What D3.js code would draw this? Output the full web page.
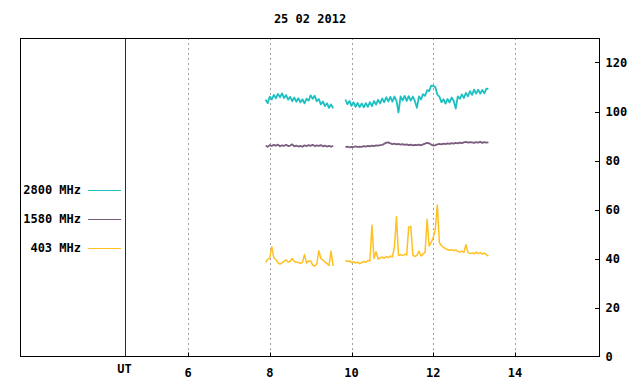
<!DOCTYPE html>
<html><head><meta charset="utf-8">
<script src="https://cdn.jsdelivr.net/npm/d3@7"></script>
<style>body{margin:0;background:#fff}svg{display:block}text{font-family:"DejaVu Sans Mono",monospace;font-weight:bold;font-size:12px;fill:#000}</style>
</head><body><svg id="c" width="640" height="384"></svg>
<script>
const title = "25 02 2012";
const xTicks = [6, 8, 10, 12, 14];
const yTicks = [0, 20, 40, 60, 80, 100, 120];
const utHour = 4.46;
const seriesNames = ["2800 MHz", "1580 MHz", "403 MHz"];
const seriesColors = ["#1cc0c0", "#7a5c7e", "#ffc020"];
const step = 0.05;
const seg1Start = 7.90;
const seg2Start = 9.85;

const mhz2800_seg1 = [104.8,103.4,106.1,104.9,106.8,105.4,107.2,105.8,107.4,105.5,106.7,104.8,106.0,104.2,105.7,104.0,105.4,103.7,105.0,103.3,105.2,104.4,106.6,105.2,106.4,104.2,105.1,102.9,104.1,102.2,103.4,101.5,102.9,101.3];
const mhz2800_seg2 = [104.9,103.0,104.3,102.3,103.8,101.9,103.5,101.8,103.3,101.7,103.4,101.9,103.8,102.2,104.3,102.8,104.8,103.3,105.3,103.8,105.8,104.1,106.0,104.0,106.1,104.4,99.6,106.2,104.5,106.4,104.3,106.3,104.4,106.1,104.3,101.5,106.2,104.9,107.1,106.4,108.7,108.3,110.6,110.5,109.9,106.9,106.1,103.8,105.0,103.2,105.1,103.7,105.7,104.3,101.2,106.2,105.2,107.0,105.5,107.6,106.2,108.3,106.8,108.9,107.3,108.9,107.3,108.8,107.4,109.3,109.2];
const mhz1580_seg1 = [86.0,85.6,86.3,85.9,86.4,86.0,86.5,85.8,86.2,86.0,86.4,85.9,86.1,86.6,85.8,86.1,85.7,86.0,85.6,86.2,85.9,86.3,86.0,86.4,85.9,86.2,86.0,86.3,85.8,86.1,85.7,86.0,85.6,86.0];
const mhz1580_seg2 = [85.5,85.7,85.4,85.6,85.5,85.8,85.5,85.7,85.6,85.9,85.7,86.0,85.8,86.1,85.9,86.2,86.1,86.3,86.4,86.8,87.3,87.4,87.0,86.7,86.9,86.6,86.8,86.5,86.7,86.4,86.6,86.3,86.5,86.2,86.4,86.3,86.5,86.2,86.6,86.9,87.2,87.0,86.5,86.1,86.3,86.6,86.8,86.6,86.9,86.7,87.0,86.8,87.1,86.9,87.2,87.0,87.3,87.1,87.4,87.6,87.3,87.5,87.4,87.2,87.5,87.3,87.6,87.2,87.5,87.3,87.4];
const mhz403_seg1 = [38.5,39.6,40.2,44.8,40.3,39.5,38.3,37.7,38.2,38.9,39.4,38.6,38.9,40.0,38.8,38.6,38.4,38.0,38.4,41.6,38.2,38.9,39.0,37.3,36.9,37.8,43.2,40.0,39.4,38.6,37.9,37.2,43.0,37.0];
const mhz403_seg2 = [39.2,38.8,39.0,38.4,38.7,38.1,38.5,37.9,38.3,38.8,38.5,39.2,39.0,53.6,40.0,42.8,39.8,40.2,40.6,40.1,40.8,40.4,41.0,40.6,44.6,57.0,41.2,41.6,41.2,41.8,41.4,52.8,53.2,41.5,40.8,41.3,43.0,41.0,41.8,42.6,56.0,45.0,46.6,48.5,52.0,61.8,46.5,45.2,44.5,44.0,43.7,43.4,43.6,43.2,43.5,42.9,42.6,43.0,42.5,45.6,42.4,42.0,42.3,41.9,42.6,42.0,42.4,41.8,42.2,41.6,41.0];

const series = [
  [mhz2800_seg1, mhz2800_seg2],
  [mhz1580_seg1, mhz1580_seg2],
  [mhz403_seg1, mhz403_seg2]
];

const svg = d3.select("#c");
const L = 20, R = 599, T = 38, B = 356.5;
const x = d3.scaleLinear().domain([6, 14]).range([188, 515]);
const y = d3.scaleLinear().domain([0, 130]).range([B, T]);

// grid
svg.append("g").selectAll("line").data(xTicks).join("line")
  .attr("x1", d => Math.round(x(d)) + 0.5).attr("x2", d => Math.round(x(d)) + 0.5)
  .attr("y1", T).attr("y2", B)
  .attr("stroke", "#a0a0a0").attr("stroke-dasharray", "2,3").attr("stroke-width", 1);

// bottom ticks
svg.append("g").selectAll("line").data(xTicks).join("line")
  .attr("x1", d => Math.round(x(d)) + 0.5).attr("x2", d => Math.round(x(d)) + 0.5)
  .attr("y1", B - 4).attr("y2", B).attr("stroke", "#000");

// UT line
const ux = Math.round(x(utHour)) + 0.5;
svg.append("line").attr("x1", ux).attr("x2", ux).attr("y1", T).attr("y2", B)
  .attr("stroke", "#8b0000").attr("stroke-width", 1);

// frame
svg.append("rect").attr("x", L + 0.5).attr("y", T + 0.5).attr("width", R - L).attr("height", B - T - 0.5)
  .attr("fill", "none").attr("stroke", "#000").attr("stroke-width", 1);

// right axis
const yAxis = d3.axisRight(y).tickValues(yTicks).tickSize(0).tickPadding(6);
const ya = svg.append("g").attr("transform", `translate(${R + 0.5},0)`).call(yAxis);
ya.select(".domain").remove();
ya.selectAll("text").attr("font-size", 12).attr("font-family", "DejaVu Sans Mono").attr("font-weight", "bold").attr("fill", "#000");
svg.append("g").selectAll("line").data(yTicks.filter(d => d > 0)).join("line")
  .attr("x1", R - 4).attr("x2", R).attr("y1", d => Math.round(y(d)) + 0.5).attr("y2", d => Math.round(y(d)) + 0.5)
  .attr("stroke", "#000");

// x labels
svg.append("g").selectAll("text").data(xTicks).join("text")
  .attr("x", d => x(d)).attr("y", 377).attr("text-anchor", "middle").text(d => d);
svg.append("text").attr("x", ux - 1).attr("y", 373).attr("text-anchor", "middle").text("UT");

// title
svg.append("text").attr("x", 310).attr("y", 23).attr("text-anchor", "middle").text(title);

// data
const line = d3.line().x(d => x(d[0])).y(d => y(d[1]));
series.forEach((segs, si) => {
  const starts = [seg1Start, seg2Start];
  segs.forEach((vals, k) => {
    const pts = vals.map((v, i) => [starts[k] + i * step, v]);
    svg.append("path").datum(pts).attr("d", line)
      .attr("fill", "none").attr("stroke", seriesColors[si]).attr("stroke-width", si === 2 ? 1.5 : 1.8)
      .attr("stroke-linejoin", "round");
  });
});

// legend
const legY = [190, 219, 248];
seriesNames.forEach((n, i) => {
  svg.append("text").attr("x", 81).attr("y", legY[i] + 4).attr("text-anchor", "end").text(n);
  svg.append("line").attr("x1", 88).attr("x2", 121).attr("y1", legY[i] + 0.5).attr("y2", legY[i] + 0.5)
    .attr("stroke", seriesColors[i]).attr("stroke-width", 1);
});
</script></body></html>
